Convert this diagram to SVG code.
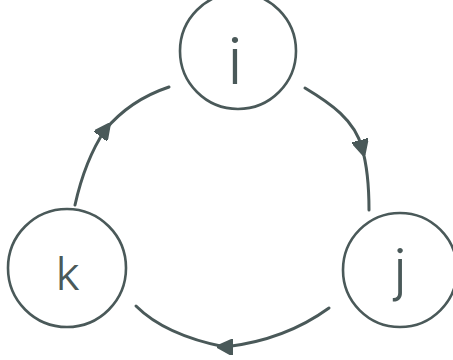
<svg xmlns="http://www.w3.org/2000/svg" width="453" height="360" viewBox="0 0 453 360">
<style>
.node circle{fill:none;stroke:#4a5959;stroke-width:2.6}
.node text{fill:#4a5959;font-family:Inter,"Liberation Sans",sans-serif;font-weight:300;text-anchor:middle}
.edge{fill:none;stroke:#4a5959;stroke-width:3;stroke-linecap:round;marker-mid:url(#arr)}
</style>
<defs>
<marker id="arr" viewBox="0 0 10 10" refX="5" refY="5" markerWidth="16" markerHeight="16" markerUnits="userSpaceOnUse" orient="auto">
<path d="M0,0 L10,5 L0,10 z" fill="#4a5959" stroke="#4a5959" stroke-width="1.5" stroke-linejoin="round"/>
</marker>
</defs>
<g id="connectors">
<path class="edge" d="M75,205 Q85,160 105,130 Q130,100 169,87"/>
<path class="edge" d="M305,88 C330,103 355,120 362,148 C367,165 369,185 369,210"/>
<path class="edge" d="M329,308 Q285,340 225,347 Q165,335 136,306"/>
</g>
<g id="node-i" class="node">
<circle cx="238" cy="51" r="58"/>
<text x="235" y="84" font-size="64">i</text>
</g>
<g id="node-k" class="node">
<circle cx="67" cy="268" r="59"/>
<text x="68" y="290" font-size="46">k</text>
</g>
<g id="node-j" class="node">
<circle cx="400" cy="270" r="57"/>
<text x="400" y="290" font-size="56">j</text>
</g>
</svg>
